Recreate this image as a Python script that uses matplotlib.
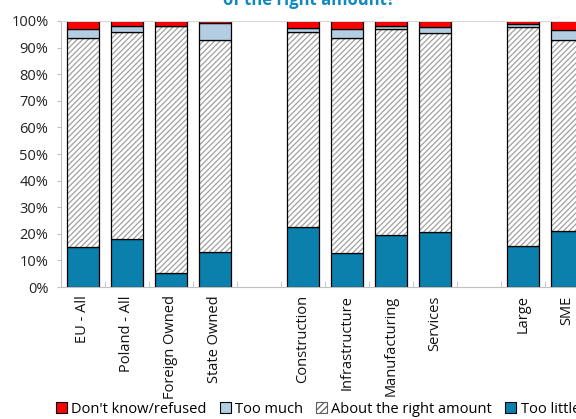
import matplotlib.pyplot as plt
import numpy as np
from matplotlib.patches import Patch

plt.rcParams["font.family"] = ["Open Sans", "DejaVu Sans"]

CATEGORIES = [
    "EU - All", "Poland - All", "Foreign Owned", "State Owned", "",
    "Construction", "Infrastructure", "Manufacturing", "Services", "",
    "Large", "SME",
]
# shares in percent; gaps between groups are NaN
TOO_LITTLE = [15.2, 18.1, 5.1, 13.0, np.nan, 22.4, 12.8, 19.5, 20.8, np.nan, 15.6, 21.0]
RIGHT_AMOUNT = [78.3, 77.6, 93.1, 79.7, np.nan, 73.3, 80.7, 77.4, 74.6, np.nan, 82.0, 72.0]
TOO_MUCH = [3.5, 2.3, 0.1, 6.4, np.nan, 1.5, 3.6, 1.1, 2.5, np.nan, 1.2, 3.5]
DONT_KNOW = [3.0, 2.0, 1.7, 0.9, np.nan, 2.8, 2.9, 2.0, 2.1, np.nan, 1.2, 3.5]

BLUE = "#0b80ac"
LIGHT_BLUE = "#b3cde3"
RED = "#ff0000"
TITLE_BLUE = "#1089bd"

fig = plt.figure(figsize=(5.76, 4.19), dpi=100)
ax = fig.add_axes((61 / 576, 132 / 419, 528 / 576, 266 / 419))

x = np.arange(len(CATEGORIES))
width = 0.73
plt.rcParams["hatch.linewidth"] = 0.9

little = np.array(TOO_LITTLE)
right = np.array(RIGHT_AMOUNT)
much = np.array(TOO_MUCH)
dk = np.array(DONT_KNOW)

ax.bar(x, little, width, color=BLUE, edgecolor="black", linewidth=0.9)
# hatched fill in gray, outline drawn separately in black
ax.bar(x, right, width, bottom=little, color="white", edgecolor="#a0a0a0",
       hatch="//////", linewidth=0)
ax.bar(x, right, width, bottom=little, fill=False, edgecolor="black", linewidth=0.9)
ax.bar(x, much, width, bottom=little + right, color=LIGHT_BLUE, edgecolor="black", linewidth=0.9)
ax.bar(x, dk, width, bottom=little + right + much, color=RED, edgecolor="black", linewidth=0.9)

ax.set_xlim(-0.5, len(CATEGORIES) - 0.5)
ax.set_ylim(0, 100)
ax.set_yticks(np.arange(0, 101, 10))
ax.set_yticklabels([f"{v}%" for v in range(0, 101, 10)], fontsize=10.5, color="#222222")

ax.set_xticks(x)
ax.set_xticklabels(CATEGORIES, rotation=90, fontsize=10.5, color="#111111", va="top")
ax.set_xticks(np.arange(-0.5, len(CATEGORIES)), minor=True)
ax.tick_params(axis="x", which="major", length=0, pad=6)
ax.tick_params(axis="x", which="minor", direction="in", length=4, color="#c0c0c0")
ax.tick_params(axis="y", direction="out", length=3, color="#c0c0c0", pad=6)

for side in ("left", "bottom"):
    ax.spines[side].set_color("#c0c0c0")
ax.spines["top"].set_color("#d9d9d9")
ax.spines["right"].set_visible(False)

fig.text(309 / 576, 1 - 5 / 419, "of the right amount?", ha="center", va="baseline",
         fontsize=12, fontweight="bold", color=TITLE_BLUE)

handles = [
    Patch(facecolor=RED, edgecolor="black", linewidth=0.8),
    Patch(facecolor=LIGHT_BLUE, edgecolor="black", linewidth=0.8),
    Patch(facecolor="white", edgecolor="#606060", hatch="/////", linewidth=0.8),
    Patch(facecolor=BLUE, edgecolor="black", linewidth=0.8),
]
labels = ["Don't know/refused", "Too much", "About the right amount", "Too little"]
fig.legend(handles, labels, loc="center", bbox_to_anchor=(318 / 576, 1 - 409 / 419),
           ncol=4, frameon=False, fontsize=10.5, handlelength=0.75, handleheight=0.75,
           handletextpad=0.3, columnspacing=0.9, borderaxespad=0)

fig.savefig("out.png", dpi=100)
